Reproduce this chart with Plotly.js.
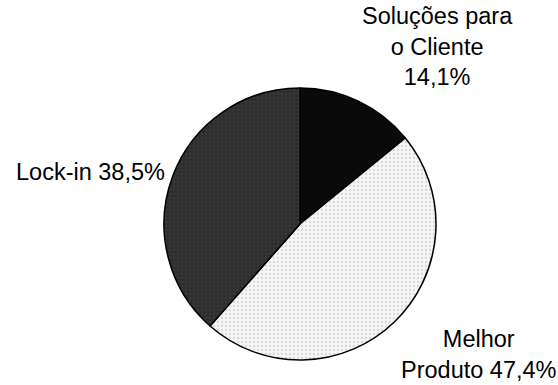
<!DOCTYPE html>
<html>
<head>
<meta charset="utf-8">
<script src="https://cdn.plot.ly/plotly-3.0.1.min.js"></script>
<style>html,body{margin:0;padding:0;background:#fff;}#chart{width:558px;height:385px;}</style>
</head>
<body>
<div id="chart"></div>
<script>
const labels = ["Soluções para<br>o Cliente", "Melhor<br>Produto", "Lock-in"];
const values = [14.1, 47.4, 38.5];
const colors = ["#0a0a0a", "#f6f6f6", "#2e2e2e"];

function fmt(v) { return v.toFixed(1).replace(".", ",") + "%"; }

const annotationText = [
  labels[0] + "<br>" + fmt(values[0]),
  labels[1] + " " + fmt(values[1]),
  labels[2] + " " + fmt(values[2])
];

const trace = {
  type: "pie",
  values: values,
  labels: labels,
  sort: false,
  direction: "clockwise",
  rotation: 0,
  textinfo: "none",
  hoverinfo: "label+percent",
  showlegend: false,
  marker: {
    colors: colors,
    line: {color: "#000", width: 1.5},
    pattern: {
      shape: ["", ".", "."],
      fgcolor: ["#0a0a0a", "#d8d8d8", "#3a3a3a"],
      bgcolor: colors,
      size: 4,
      solidity: 0.25
    }
  },
  domain: {x: [164/558, 436/558], y: [1 - 360/385, 1 - 88/385]}
};

const font = {family: "Liberation Sans, Arial, sans-serif", size: 23.5, color: "#000"};
const layout = {
  width: 558, height: 385,
  margin: {l: 0, r: 0, t: 0, b: 0},
  paper_bgcolor: "#fff",
  font: font,
  annotations: [
    {text: annotationText[0], xref: "paper", yref: "paper", x: 437.5/558, y: 1 - 1/385,
     xanchor: "center", yanchor: "top", showarrow: false, align: "center", font: font},
    {text: annotationText[1], xref: "paper", yref: "paper", x: 478.5/558, y: 0,
     xanchor: "center", yanchor: "bottom", showarrow: false, align: "center", font: font},
    {text: annotationText[2], xref: "paper", yref: "paper", x: 90/558, y: 1 - 172/385,
     xanchor: "center", yanchor: "middle", showarrow: false, align: "center", font: font}
  ]
};

Plotly.newPlot("chart", [trace], layout, {staticPlot: true, displayModeBar: false});
</script>
</body>
</html>
